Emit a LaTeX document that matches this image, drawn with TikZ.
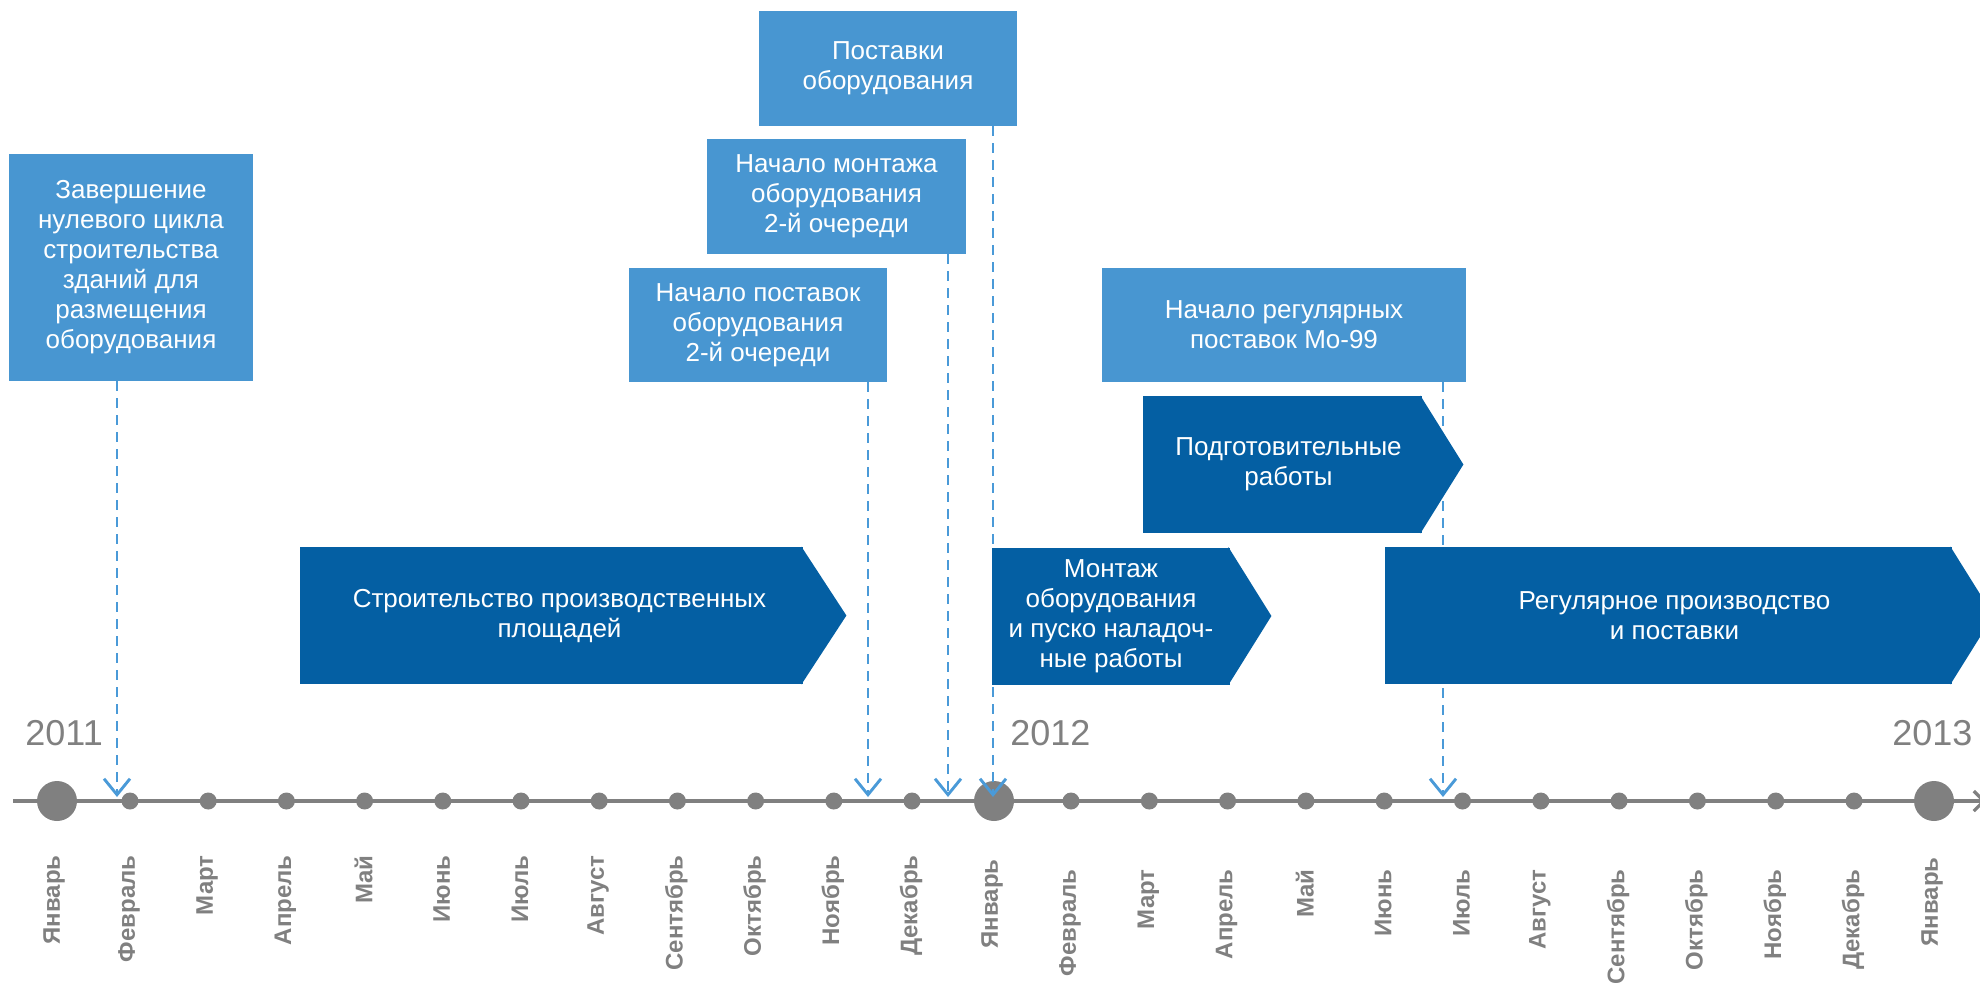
\documentclass[tikz,border=0pt]{standalone}
\usepackage{fontspec}
\setmainfont{Liberation Sans}
\usetikzlibrary{arrows.meta}
\definecolor{eventblue}{HTML}{4896D1}
\definecolor{phaseblue}{HTML}{045FA3}
\definecolor{linkblue}{HTML}{4A9AD8}
\definecolor{axisgray}{HTML}{808080}

\tikzset{
  event/.style={fill=eventblue, text=white, align=center, inner sep=0pt,
    font=\fontsize{13}{15}\selectfont},
  phase/.style={fill=phaseblue, text=white, align=center, inner sep=0pt,
    minimum height=68.5pt, font=\fontsize{13}{15}\selectfont},
  link/.style={linkblue, line width=1.45pt, dash pattern=on 5pt off 3.5pt,
    -{Straight Barb[length=8pt,width=13pt]}},
  dot/.style={circle, fill=axisgray, inner sep=0pt, minimum size=8.5pt},
  bigdot/.style={circle, fill=axisgray, inner sep=0pt, minimum size=20pt},
  month/.style={rotate=90, anchor=east, text=axisgray, inner sep=0pt,
    font=\bfseries\fontsize{12}{14}\selectfont},
  year/.style={anchor=base west, text=axisgray, inner sep=0pt,
    font=\fontsize{18}{20}\selectfont}
}

\begin{document}
\begin{tikzpicture}[x=0.5pt, y=-0.5pt]
\useasboundingbox (0,0) rectangle (1980,982);
\clip (0,0) rectangle (1980,982);

% events (light boxes)
\node[event, minimum width=122pt, minimum height=113.5pt] (zero) at (131,267.5)
  {Завершение\\нулевого цикла\\строительства\\зданий для\\размещения\\оборудования};
\node[event, minimum width=129pt, minimum height=57pt] (post2) at (758,325)
  {Начало поставок\\оборудования\\2-й очереди};
\node[event, minimum width=129.5pt, minimum height=57.5pt] (mont2) at (836.5,196.5)
  {Начало монтажа\\оборудования\\2-й очереди};
\node[event, minimum width=129pt, minimum height=57.5pt] (post) at (888,68.5)
  {Поставки\\оборудования};
\node[event, minimum width=182pt, minimum height=57pt] (regpost) at (1284,325)
  {Начало регулярных\\поставок Mo-99};

% time axis
\coordinate (axstart) at (13,801);
\coordinate (axend) at (1986,801);
\draw[axisgray, line width=1.6pt, -{Straight Barb[length=5pt,width=10pt]}] (axstart) -- (axend);

\node[bigdot] (jan11) at (57,801) {};
\node[month] (ljan11) at (54,855) {Январь};
\foreach \m [count=\i] in {Февраль,Март,Апрель,Май,Июнь,Июль,Август,Сентябрь,Октябрь,Ноябрь,Декабрь}{
  \node[dot] (a\i) at ({130+78.2*(\i-1)},801) {};
  \node[month] (la\i) at ({129+78.2*(\i-1)},855) {\m};
}
\node[bigdot] (jan12) at (994,801) {};
\node[month] (ljan12) at (992,859) {Январь};
\foreach \m [count=\i] in {Февраль,Март,Апрель,Май,Июнь,Июль,Август,Сентябрь,Октябрь,Ноябрь,Декабрь}{
  \node[dot] (b\i) at ({1071+78.3*(\i-1)},801) {};
  \node[month] (lb\i) at ({1070+78.3*(\i-1)},869) {\m};
}
\node[bigdot] (jan13) at (1934,801) {};
\node[month] (ljan13) at (1932,857) {Январь};

\node[year] (y11) at (25,745) {2011};
\node[year] (y12) at (1010,745) {2012};
\node[year] (y13) at (1892,745) {2013};

% dashed links to the axis
\coordinate (t1) at (117,797);
\coordinate (t2) at (868,797);
\coordinate (t3) at (948,797);
\coordinate (t4) at (993,797);
\coordinate (t5) at (1443,797);
\draw[link] (zero.south -| t1) -- (t1);
\draw[link] (post2.south -| t2) -- (t2);
\draw[link] (mont2.south -| t3) -- (t3);
\draw[link] (post.south -| t4) -- (t4);
\draw[link] (regpost.south -| t5) -- (t5);

% phases (dark arrows)
\node[phase, minimum width=251.5pt] (build) at (551.5,615.5)
  {\hspace*{8pt}Строительство производственных\\\hspace*{8pt}площадей};
\fill[phaseblue] ([xshift=-1pt]build.north east) -- ([xshift=21.5pt]build.east) -- ([xshift=-1pt]build.south east) -- cycle;
\node[phase, minimum width=119pt] (mount) at (1111,616)
  {Монтаж\\оборудования\\и пуско наладоч-\\ные работы};
\fill[phaseblue] ([xshift=-1pt]mount.north east) -- ([xshift=20.5pt]mount.east) -- ([xshift=-1pt]mount.south east) -- cycle;
\node[phase, minimum width=139.5pt] (prep) at (1282.5,464.5)
  {\hspace*{6pt}Подготовительные\\\hspace*{6pt}работы};
\fill[phaseblue] ([xshift=-1pt]prep.north east) -- ([xshift=20.5pt]prep.east) -- ([xshift=-1pt]prep.south east) -- cycle;
\node[phase, minimum width=283.5pt] (regprod) at (1668.5,615.5)
  {\hspace*{6pt}Регулярное производство\\\hspace*{6pt}и поставки};
\fill[phaseblue] ([xshift=-1pt]regprod.north east) -- ([xshift=20.5pt]regprod.east) -- ([xshift=-1pt]regprod.south east) -- cycle;
\end{tikzpicture}
\end{document}
